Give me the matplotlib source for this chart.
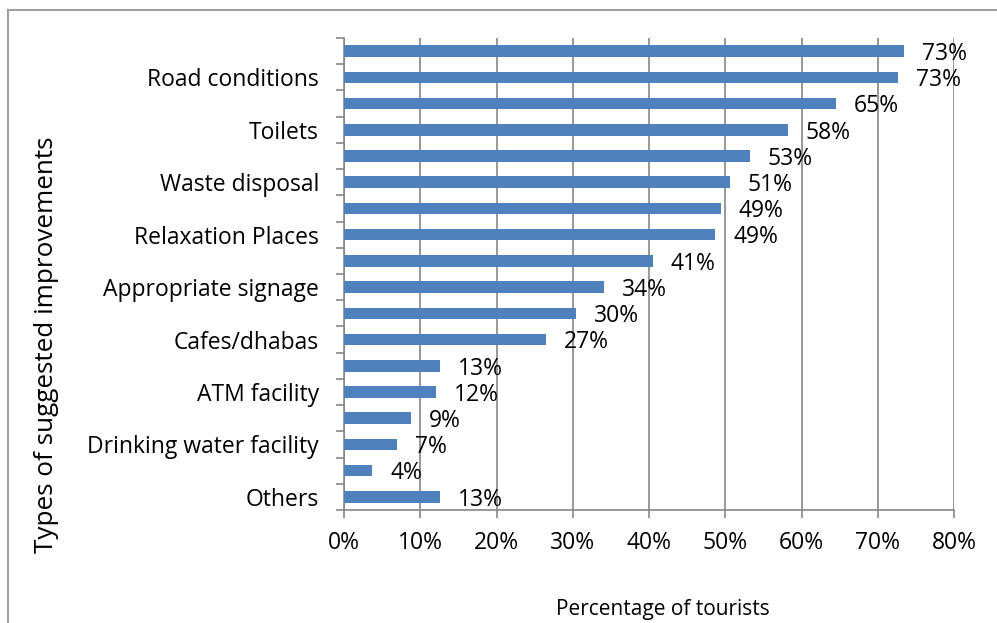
import matplotlib
matplotlib.use("Agg")
import matplotlib.pyplot as plt
from matplotlib.lines import Line2D
import numpy as np

# categories top to bottom; only every other one is labelled in the source
categories = ["", "Road conditions", "", "Toilets", "", "Waste disposal",
              "", "Relaxation Places", "", "Appropriate signage", "",
              "Cafes/dhabas", "", "ATM facility", "",
              "Drinking water facility", "", "Others"]
values = [73.4, 72.7, 64.5, 58.2, 53.2, 50.6, 49.4, 48.7, 40.5,
          34.1, 30.4, 26.5, 12.6, 12.0, 8.8, 6.9, 3.7, 12.6]
value_labels = ["73%", "73%", "65%", "58%", "53%", "51%", "49%", "49%", "41%",
                "34%", "30%", "27%", "13%", "12%", "9%", "7%", "4%", "13%"]
x_ticks = [0, 10, 20, 30, 40, 50, 60, 70, 80]

plt.rcParams['font.family'] = ['Open Sans', 'DejaVu Sans']

W, H = 997, 623
fig = plt.figure(figsize=(W / 100, H / 100), dpi=100)
ax = fig.add_axes([344 / W, 1 - 510 / H, (954 - 344) / W, (510 - 38) / H])

bar_color = "#4f81bd"
grid_color = "#868686"

y = np.arange(len(values))
ax.barh(y, values, height=0.44, color=bar_color, zorder=3)

for yi, v, lab in zip(y, values, value_labels):
    ax.annotate(lab, (v, yi), xytext=(13, -2), textcoords="offset points",
                va="center", ha="left", fontsize=16.5, color="black", zorder=4)

ax.set_xlim(0, 80)
ax.set_ylim(len(values) - 0.5, -0.5)

ax.set_xticks(x_ticks)
ax.set_xticklabels([f"{t}%" for t in x_ticks], fontsize=16.5)
ax.xaxis.grid(True, color=grid_color, linewidth=1.2, zorder=0)
ax.tick_params(axis="x", direction="out", length=6, width=1.2, color=grid_color, pad=9)

# major y ticks between categories, labels on minor ticks at bar centres
ax.set_yticks(np.arange(-0.5, len(values), 1.0))
ax.set_yticklabels([])
ax.tick_params(axis="y", which="major", direction="out", length=6, width=1.2, color=grid_color)
lab_idx = [i for i, c in enumerate(categories) if c]
ax.set_yticks(lab_idx, minor=True)
ax.set_yticklabels([categories[i] for i in lab_idx], minor=True, fontsize=16.5)
ax.tick_params(axis="y", which="minor", length=0, pad=18)

for s in ["top", "right"]:
    ax.spines[s].set_visible(False)
for s in ["left", "bottom"]:
    ax.spines[s].set_color(grid_color)
    ax.spines[s].set_linewidth(1.2)

fig.text(663 / W, 1 - 610 / H, "Percentage of tourists", ha="center", va="center", fontsize=15)
fig.text(47 / W, 1 - 345 / H, "Types of suggested improvements", ha="center", va="center",
         rotation=90, fontsize=18.8)

# chart area border (left and top visible)
fig.add_artist(Line2D([8 / W, 8 / W], [0, 1 - 10 / H], transform=fig.transFigure,
                      color="#a0a0a0", linewidth=1.5))
fig.add_artist(Line2D([8 / W, 1], [1 - 10 / H, 1 - 10 / H], transform=fig.transFigure,
                      color="#a0a0a0", linewidth=1.5))

fig.savefig("out.png", dpi=100)
